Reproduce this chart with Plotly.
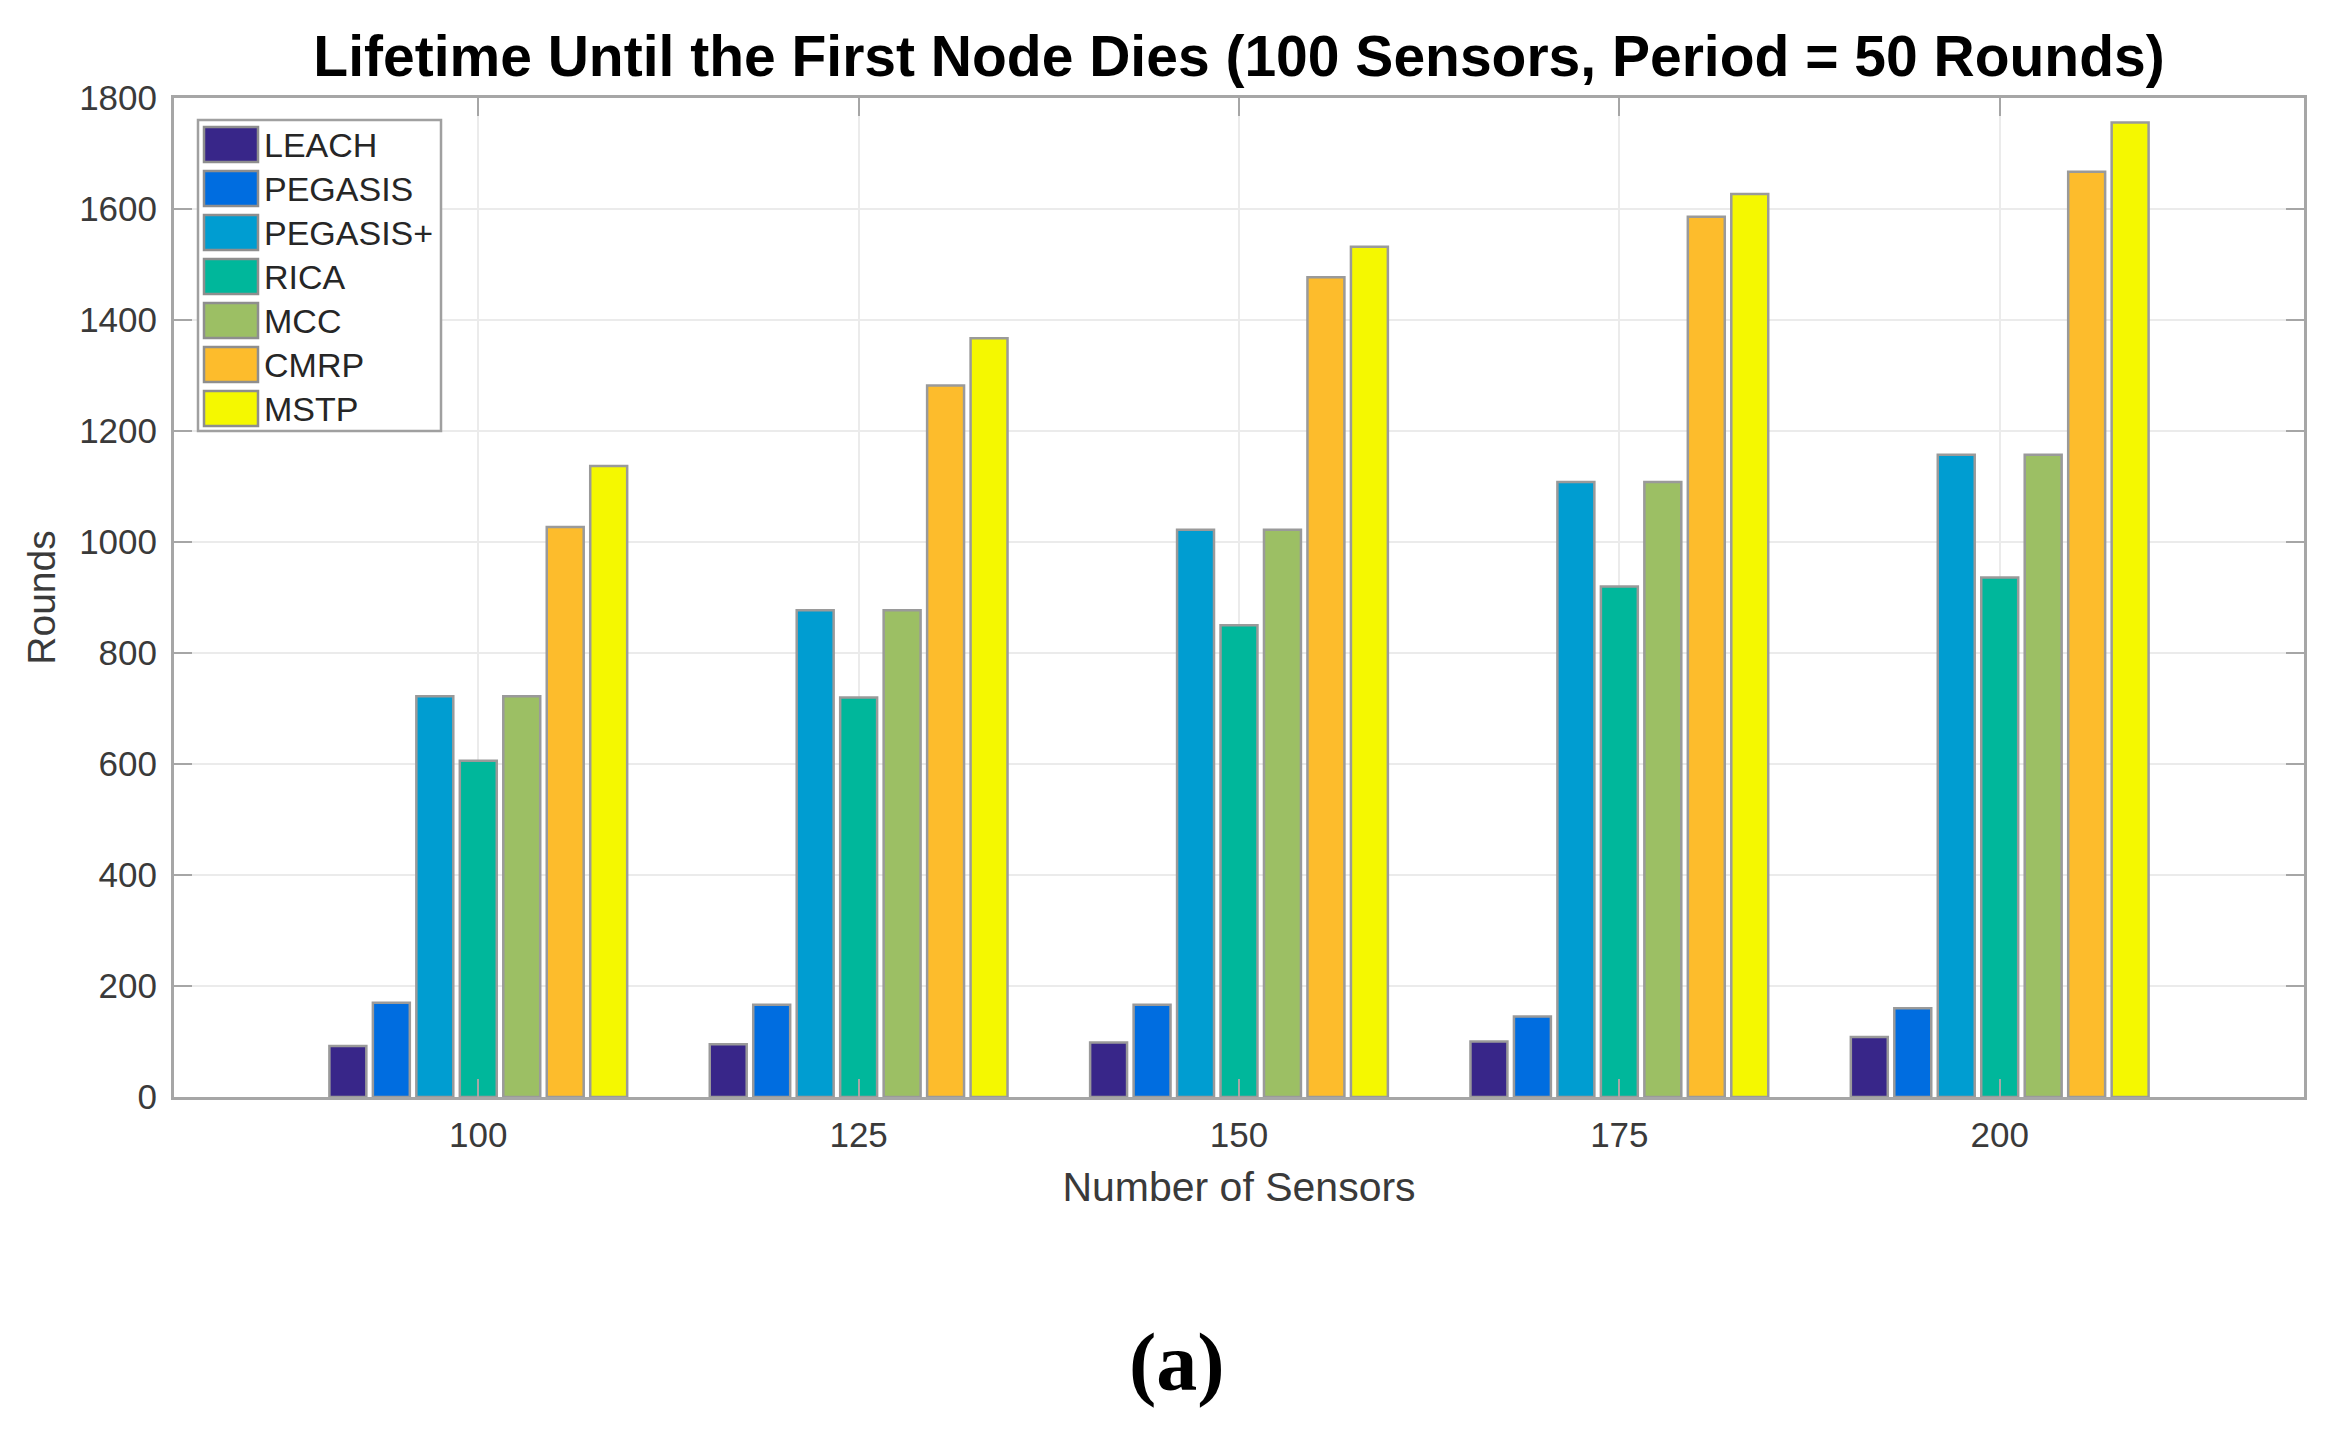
import plotly.graph_objects as go

# ---------------- data ----------------
categories = [1, 2, 3, 4, 5]
tick_labels = ["100", "125", "150", "175", "200"]

series_names = ["LEACH", "PEGASIS", "PEGASIS+", "RICA", "MCC", "CMRP", "MSTP"]
leach = [92, 95, 98, 100, 108]
pegasis = [170, 166, 166, 145, 160]
pegasis_plus = [722, 877, 1022, 1108, 1157]
rica = [606, 720, 850, 920, 936]
mcc = [722, 877, 1022, 1108, 1157]
cmrp = [1027, 1282, 1477, 1586, 1667]
mstp = [1137, 1367, 1532, 1627, 1756]
series_values = [leach, pegasis, pegasis_plus, rica, mcc, cmrp, mstp]

colors = ["#382689", "#006DE0", "#009DD1", "#00B79B", "#9CBF64", "#FDBC2C", "#F5F800"]

# ---------------- figure ----------------
W, H = 2335, 1432
DX, DY = -7, -7
L, R, T, B = 173 + DX, 2302 + DX + 1, 97 + DY, 1096 + DY  # plot area in pixels


def px(x):
    return (x + DX - L) / (R - L)


def py(y):
    return (B - (y + DY)) / (B - T)


fig = go.Figure()
for name, vals, col in zip(series_names, series_values, colors):
    fig.add_trace(go.Bar(
        x=categories, y=vals, name=name,
        marker=dict(color=col, line=dict(color="#9a9a9a", width=2.5)),
        showlegend=False,
    ))

axis_col = "#a6a6a6"
grid_col = "#ebebeb"
tick_font = dict(family="Liberation Sans, Arial", size=35, color="#3a3a3a")

fig.update_layout(
    width=W, height=H, autosize=False,
    margin=dict(l=L, r=W - R, t=T, b=H - B, pad=0),
    paper_bgcolor="white", plot_bgcolor="white",
    barmode="group", bargap=0.2, bargroupgap=0.15,
    title=dict(
        text="<b>Lifetime Until the First Node Dies (100 Sensors, Period = 50 Rounds)</b>",
        x=0.5, xref="paper", xanchor="center",
        y=1 - 48 / H, yref="container", yanchor="middle",
        font=dict(family="Liberation Sans, Arial", size=57, color="#000000"),
    ),
    xaxis=dict(
        range=[0.2, 5.8], tickmode="array", tickvals=categories, ticktext=tick_labels,
        showgrid=True, gridcolor=grid_col, gridwidth=2,
        showline=True, linecolor=axis_col, linewidth=3, mirror="ticks",
        ticks="inside", ticklen=18, tickwidth=2, tickcolor=axis_col,
        tickfont=tick_font, ticklabelstandoff=5,
        title=dict(text="Number of Sensors", standoff=20,
                   font=dict(family="Liberation Sans, Arial", size=41, color="#3a3a3a")),
        zeroline=False,
    ),
    yaxis=dict(
        range=[0, 1800], dtick=200, tick0=0,
        showgrid=True, gridcolor=grid_col, gridwidth=2,
        showline=True, linecolor=axis_col, linewidth=3, mirror="ticks",
        ticks="inside", ticklen=18, tickwidth=2, tickcolor=axis_col,
        tickfont=tick_font, ticklabelstandoff=7,
        title=dict(text="Rounds", standoff=12,
                   font=dict(family="Liberation Sans, Arial", size=39, color="#3a3a3a")),
        zeroline=False,
    ),
)

# ---------------- custom legend (MATLAB style, large swatches) ----------------
shapes = []
annotations = []
shapes.append(dict(type="rect", xref="paper", yref="paper",
                   x0=px(197), x1=px(440), y0=py(430), y1=py(119),
                   fillcolor="white", line=dict(color="#a0a0a0", width=2.5), layer="above"))
pitch = 44
for i, (name, col) in enumerate(zip(series_names, colors)):
    top = 126 + i * pitch
    bot = top + 35
    shapes.append(dict(type="rect", xref="paper", yref="paper",
                       x0=px(203), x1=px(257), y0=py(bot), y1=py(top),
                       fillcolor=col, line=dict(color="#8e8e8e", width=2.5), layer="above"))
    annotations.append(dict(xref="paper", yref="paper", x=px(261), y=py((top + bot) / 2),
                            xanchor="left", yanchor="middle", showarrow=False, text=name,
                            font=dict(family="Liberation Sans, Arial", size=34, color="#262626")))

# caption
annotations.append(dict(xref="paper", yref="paper", x=px(1176), y=py(1361),
                        xanchor="center", yanchor="middle", showarrow=False, text="<b>(a)</b>",
                        font=dict(family="Liberation Serif, Times New Roman", size=82, color="#000000")))

fig.update_layout(shapes=shapes, annotations=annotations)

fig.write_html("out.html")
